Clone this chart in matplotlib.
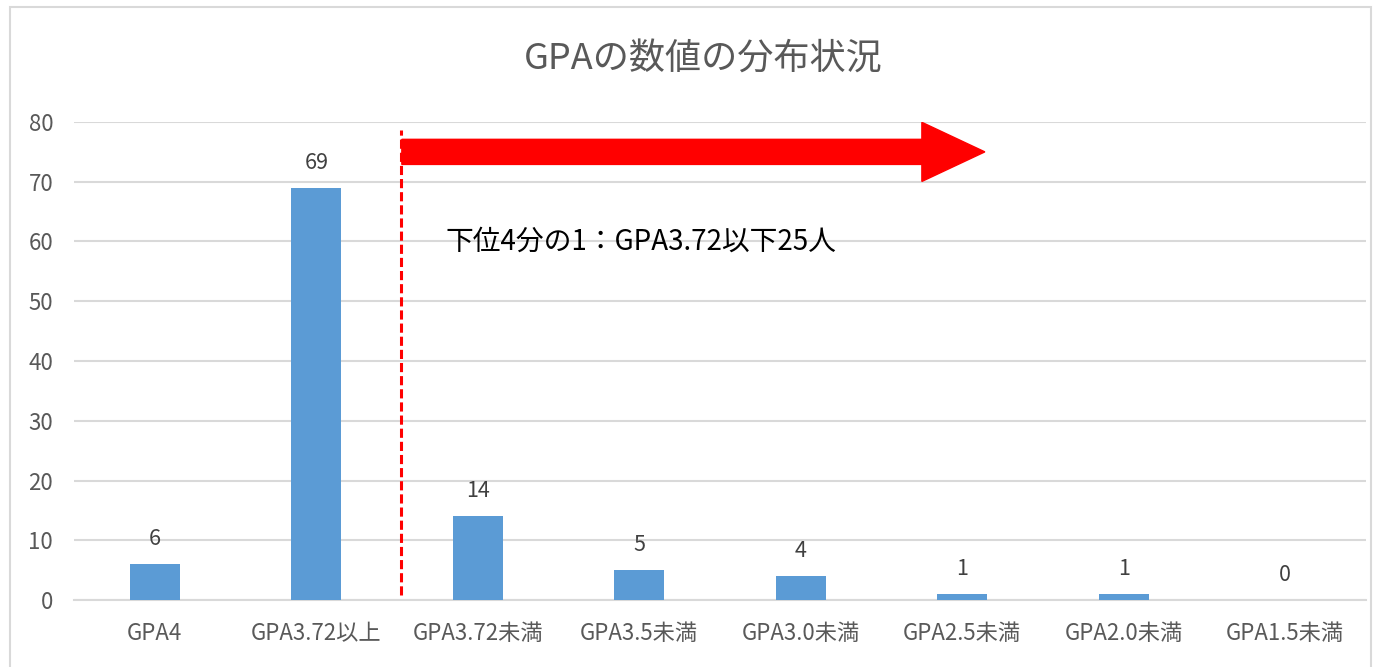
import numpy as np
import matplotlib
matplotlib.use("Agg")
import matplotlib.pyplot as plt
from matplotlib.patches import FancyArrow, Rectangle

plt.rcParams['font.family'] = ['Noto Sans CJK JP', 'DejaVu Sans']

# データ
categories = ['GPA4', 'GPA3.72以上', 'GPA3.72未満', 'GPA3.5未満',
              'GPA3.0未満', 'GPA2.5未満', 'GPA2.0未満', 'GPA1.5未満']
counts = [6, 69, 14, 5, 4, 1, 1, 0]
y_ticks = [0, 10, 20, 30, 40, 50, 60, 70, 80]
title = 'GPAの数値の分布状況'
note = '下位4分の1：GPA3.72以下25人'

# 注記の位置（データ座標）
LINE_X = 1.525
LINE_Y = (0.8, 78.7)
ARROW_Y = 75.0
ARROW_X = (1.53, 5.14)
NOTE_POS = (1.8, 60)

BAR_COLOR = '#5b9bd5'
GRID_COLOR = '#d9d9d9'
TEXT_COLOR = '#595959'

fig = plt.figure(figsize=(13.75, 6.67), dpi=100)
ax = fig.add_axes([74 / 1375, 67 / 667, 1292 / 1375, 478 / 667])

# 外枠
fig.patches.append(Rectangle((10 / 1375, -0.01), 1361 / 1375, 1 - 7 / 667 + 0.01,
                             transform=fig.transFigure, fill=False,
                             edgecolor=GRID_COLOR, linewidth=1.5))

x = np.arange(len(categories))
ax.bar(x, counts, width=0.31, color=BAR_COLOR, zorder=3)

for xi, v in zip(x, counts):
    ax.annotate(str(v), (xi, v), xytext=(0, 18), textcoords='offset points',
                ha='center', va='center', fontsize=15.5, color='#404040')

ax.set_xlim(-0.5, len(categories) - 0.5)
ax.set_ylim(0, 80)
ax.set_yticks(y_ticks)
ax.set_xticks(x)
ax.set_xticklabels(categories)
ax.tick_params(axis='both', length=0, labelsize=16, labelcolor=TEXT_COLOR)
ax.tick_params(axis='x', pad=16)
ax.tick_params(axis='y', pad=15)
ax.grid(axis='y', color=GRID_COLOR, linewidth=1.5, zorder=0)
for s in ['top', 'right', 'left']:
    ax.spines[s].set_visible(False)
ax.spines['bottom'].set_color(GRID_COLOR)
ax.spines['bottom'].set_linewidth(1.5)

# 区切り線
ax.plot([LINE_X, LINE_X], LINE_Y, color='red', linewidth=2.2,
        linestyle=(0, (3, 1.3)), zorder=4)

# 矢印
arrow = FancyArrow(ARROW_X[0], ARROW_Y, ARROW_X[1] - ARROW_X[0], 0,
                   width=4.2, head_width=9.9, head_length=0.39,
                   length_includes_head=True, color='red', zorder=5)
ax.add_patch(arrow)

ax.text(NOTE_POS[0], NOTE_POS[1], note, fontsize=20, color='black',
        ha='left', va='center', zorder=6)

fig.text(703 / 1375, 1 - 60 / 667, title, fontsize=26, color=TEXT_COLOR,
         ha='center', va='center')

fig.savefig('out.png', dpi=100)
